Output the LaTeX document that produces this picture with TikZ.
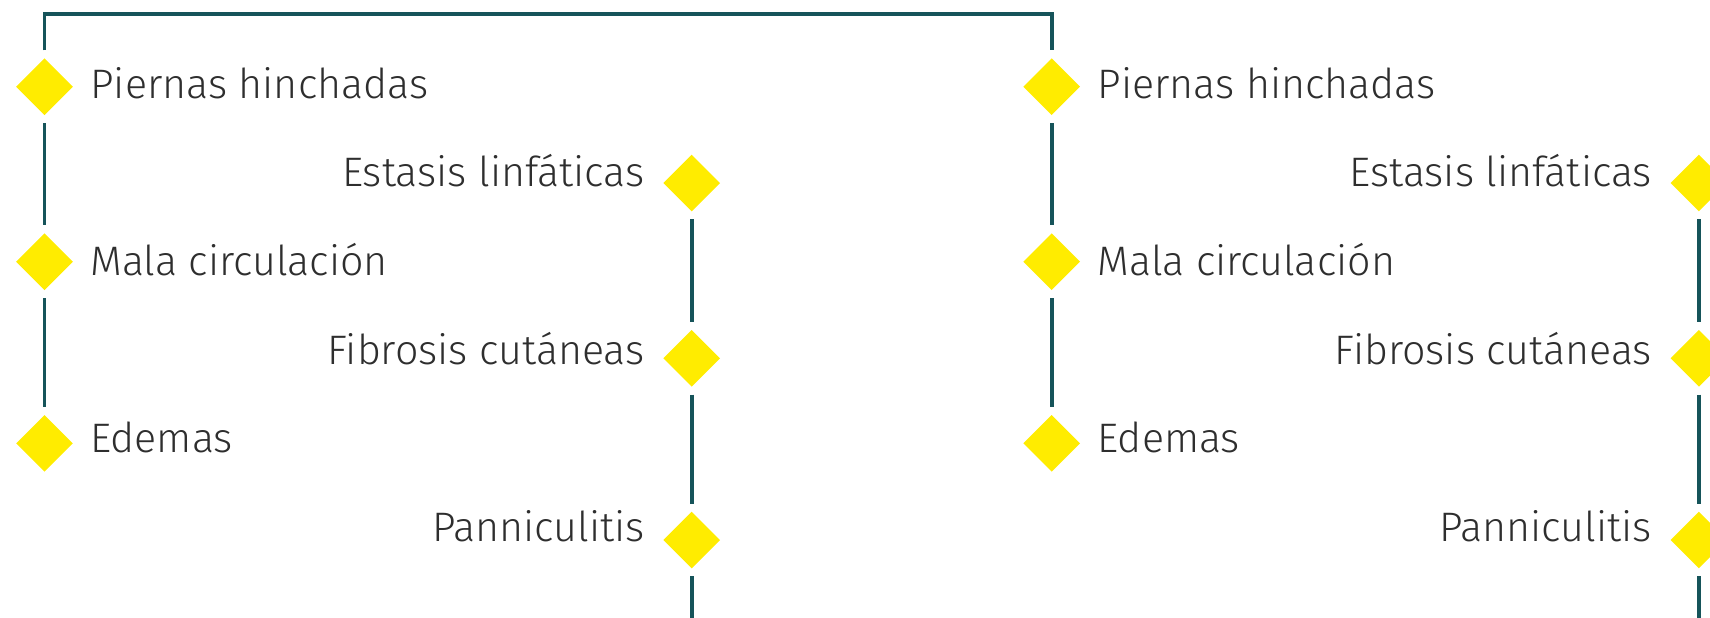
\documentclass[tikz,border=0pt]{standalone}
\usepackage{fontspec}
\setmainfont{Fira Sans}[UprightFont=* Light]
\usetikzlibrary{shapes.geometric}
\definecolor{lnteal}{HTML}{16545A}
\definecolor{dyellow}{HTML}{FFEC00}
\definecolor{txtgray}{HTML}{2E2E2E}
\begin{document}
\begin{tikzpicture}[x=0.5pt,y=-0.5pt,
 dia/.style={diamond, fill=dyellow, draw=none, inner sep=0pt, outer sep=0pt, minimum size=28.3pt},
 lbl/.style={font=\fontsize{20.6}{24}\selectfont, text=txtgray, inner sep=0pt},
 conn/.style={draw=lnteal, line width=1.8pt, shorten >=4pt, shorten <=4pt}]
\useasboundingbox (0,0) rectangle (1710,617);
% left set
\node[dia] (a1) at (44.5,86.7) {};
\node[dia] (a2) at (44.5,261.7) {};
\node[dia] (a3) at (44.5,443.3) {};
\node[dia] (b1) at (691.7,183) {};
\node[dia] (b2) at (691.7,358.3) {};
\node[dia] (b3) at (691.7,540) {};
% right set
\node[dia] (c1) at (1051.7,86.7) {};
\node[dia] (c2) at (1051.7,261.7) {};
\node[dia] (c3) at (1051.7,443.3) {};
\node[dia] (e1) at (1698.9,183) {};
\node[dia] (e2) at (1698.9,358.3) {};
\node[dia] (e3) at (1698.9,540) {};
% labels left set
\node[lbl, anchor=base west] (la1) at (90,98.3) {Piernas hinchadas};
\node[lbl, anchor=base west] (la2) at (90,275.6) {Mala circulación};
\node[lbl, anchor=base west] (la3) at (90,452.9) {Edemas};
\node[lbl, anchor=base east] (lb1) at (645,186.9) {Estasis linfáticas};
\node[lbl, anchor=base east] (lb2) at (645,364.2) {Fibrosis cutáneas};
\node[lbl, anchor=base east] (lb3) at (645,541.5) {Panniculitis};
% labels right set
\node[lbl, anchor=base west] (lc1) at (1097.2,98.3) {Piernas hinchadas};
\node[lbl, anchor=base west] (lc2) at (1097.2,275.6) {Mala circulación};
\node[lbl, anchor=base west] (lc3) at (1097.2,452.9) {Edemas};
\node[lbl, anchor=base east] (le1) at (1652.2,186.9) {Estasis linfáticas};
\node[lbl, anchor=base east] (le2) at (1652.2,364.2) {Fibrosis cutáneas};
\node[lbl, anchor=base east] (le3) at (1652.2,541.5) {Panniculitis};
% connectors
\coordinate (tl) at (44.5,13.7);
\coordinate (tr) at (1051.7,13.7);
\coordinate (bb) at (691.7,640);
\coordinate (eb) at (1698.9,640);
\draw[conn] (a1.north) -- (tl) -- (tr) -- (c1.north);
\draw[conn] (a1) -- (a2);
\draw[conn] (a2) -- (a3);
\draw[conn] (c1) -- (c2);
\draw[conn] (c2) -- (c3);
\draw[conn] (b1) -- (b2);
\draw[conn] (b2) -- (b3);
\draw[conn, shorten >=0pt] (b3) -- (bb);
\draw[conn] (e1) -- (e2);
\draw[conn] (e2) -- (e3);
\draw[conn, shorten >=0pt] (e3) -- (eb);
\end{tikzpicture}
\end{document}
